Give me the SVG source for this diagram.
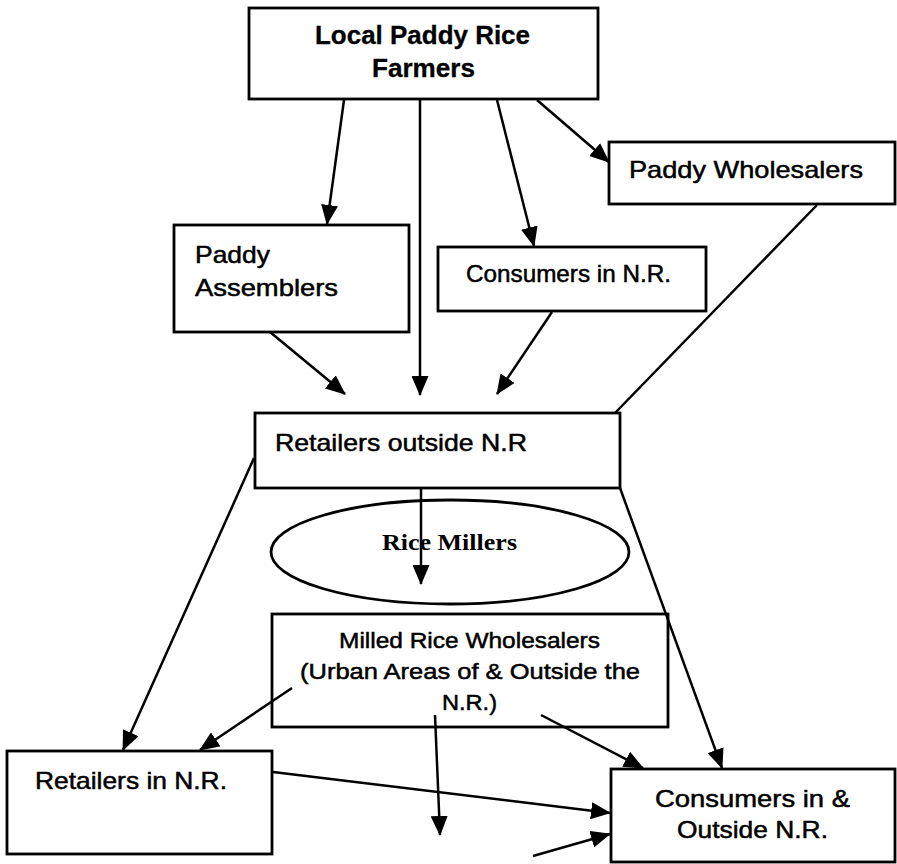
<svg xmlns="http://www.w3.org/2000/svg" width="897" height="864" viewBox="0 0 897 864">
<style>
.box{fill:#fff;stroke:#000;stroke-width:2.8}
.t{font-family:"Liberation Sans",Arial,sans-serif;font-size:24px;fill:#000;stroke:#000;stroke-width:0.5}
.b{font-weight:bold;font-size:25px;stroke-width:0.3}
.s{font-family:"Liberation Serif","Times New Roman",serif;font-weight:bold;font-size:24px;fill:#000}
.m{font-size:22px}
.c{fill:none;stroke:#000;stroke-width:2.5}
.a{marker-end:url(#ah)}
</style>
<defs>
<marker id="ah" viewBox="0 0 20 17" refX="19" refY="8.5" markerWidth="20" markerHeight="17" markerUnits="userSpaceOnUse" orient="auto">
<path d="M0,0 L20,8.5 L0,17 z" fill="#000"/>
</marker>
</defs>
<rect width="897" height="864" fill="#fff"/>
<g id="farmers">
<rect class="box" x="249" y="8" width="349" height="91"/>
<text class="t b" x="315" y="44" textLength="215" lengthAdjust="spacingAndGlyphs">Local Paddy Rice</text>
<text class="t b" x="372" y="77" textLength="103" lengthAdjust="spacingAndGlyphs">Farmers</text>
</g>
<g id="paddy-wholesalers">
<rect class="box" x="609" y="142" width="286" height="62"/>
<text class="t" x="629" y="178" textLength="234" lengthAdjust="spacingAndGlyphs">Paddy Wholesalers</text>
</g>
<g id="paddy-assemblers">
<rect class="box" x="174" y="225" width="235" height="107"/>
<text class="t" x="195" y="263" textLength="75" lengthAdjust="spacingAndGlyphs">Paddy</text>
<text class="t" x="195" y="296" textLength="143" lengthAdjust="spacingAndGlyphs">Assemblers</text>
</g>
<g id="consumers-nr">
<rect class="box" x="438" y="247" width="268" height="64"/>
<text class="t" x="466" y="282" textLength="205" lengthAdjust="spacingAndGlyphs">Consumers in N.R.</text>
</g>
<g id="retailers-outside">
<rect class="box" x="255" y="413" width="365" height="75"/>
<text class="t" x="275" y="451" textLength="252" lengthAdjust="spacingAndGlyphs">Retailers outside N.R</text>
</g>
<g id="rice-millers">
<ellipse class="box" cx="450" cy="552" rx="179" ry="52"/>
<text class="s" x="382" y="550" textLength="135" lengthAdjust="spacingAndGlyphs">Rice Millers</text>
</g>
<g id="milled-wholesalers">
<rect class="box" x="272" y="614" width="396" height="113"/>
<text class="t m" x="339" y="648" textLength="261" lengthAdjust="spacingAndGlyphs">Milled Rice Wholesalers</text>
<text class="t m" x="300" y="679" textLength="340" lengthAdjust="spacingAndGlyphs">(Urban Areas of &amp; Outside the</text>
<text class="t m" x="442" y="710" textLength="55" lengthAdjust="spacingAndGlyphs">N.R.)</text>
</g>
<g id="retailers-nr">
<rect class="box" x="7" y="751" width="265" height="103"/>
<text class="t" x="35" y="789" textLength="192" lengthAdjust="spacingAndGlyphs">Retailers in N.R.</text>
</g>
<g id="consumers-all">
<rect class="box" x="611" y="769" width="284" height="93"/>
<text class="t" x="655" y="807" textLength="195" lengthAdjust="spacingAndGlyphs">Consumers in &amp;</text>
<text class="t" x="677" y="838" textLength="151" lengthAdjust="spacingAndGlyphs">Outside N.R.</text>
</g>
<g id="connectors">
<line class="c a" x1="344" y1="100" x2="327" y2="224"/>
<line class="c a" x1="420" y1="100" x2="420" y2="395"/>
<line class="c a" x1="497" y1="100" x2="534" y2="246"/>
<line class="c a" x1="537" y1="100" x2="609" y2="162"/>
<line class="c a" x1="270" y1="332" x2="345" y2="394"/>
<line class="c a" x1="552" y1="312" x2="497" y2="394"/>
<line class="c" x1="817" y1="205" x2="615" y2="413"/>
<line class="c a" x1="254" y1="458" x2="123" y2="750"/>
<line class="c a" x1="620" y1="488" x2="722" y2="768"/>
<line class="c a" x1="421" y1="489" x2="421" y2="584"/>
<line class="c a" x1="292" y1="688" x2="200" y2="750"/>
<line class="c a" x1="541" y1="715" x2="643" y2="768"/>
<line class="c a" x1="435" y1="715" x2="440" y2="835"/>
<line class="c a" x1="273" y1="772" x2="610" y2="813"/>
<line class="c a" x1="533" y1="856" x2="610" y2="834"/>
</g>
</svg>
